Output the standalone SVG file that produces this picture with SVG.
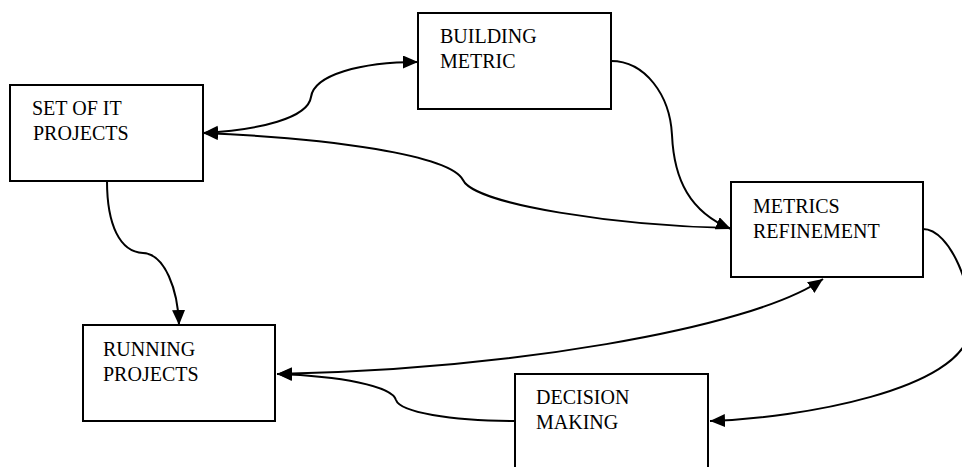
<svg xmlns="http://www.w3.org/2000/svg" width="962" height="467" viewBox="0 0 962 467">
<style>
.box{fill:#fff;stroke:#000;stroke-width:2}
.lbl{font-family:"Liberation Serif","Times New Roman",serif;font-size:20px;fill:#000}
.con{fill:none;stroke:#000;stroke-width:2}
</style>
<defs>
<marker id="ah" markerUnits="userSpaceOnUse" markerWidth="16" markerHeight="14" refX="15" refY="6.5" orient="auto-start-reverse" viewBox="0 0 16 14">
<path d="M0,0 L15,6.5 L0,13 z" fill="#000"/>
</marker>
</defs>
<rect width="962" height="467" fill="#fff"/>
<g id="connectors">
<path class="con" d="M203,133 C260,130 308,118 311,97 C314,75 360,62 418,62" marker-start="url(#ah)" marker-end="url(#ah)"/>
<path class="con" d="M203,133 C330,138 450,155 463,180 C475,205 620,226 731,228" marker-start="url(#ah)"/>
<path class="con" d="M611,61 C645,61 670,95 672,135 C674,180 690,212 731,229" marker-end="url(#ah)"/>
<path class="con" d="M277,374 C500,370 750,330 823,279" marker-start="url(#ah)" marker-end="url(#ah)"/>
<path class="con" d="M515,421 C450,421 400,412 396,400 C392,386 340,376 277,374" marker-end="url(#ah)"/>
<path class="con" d="M107,181 C107,225 120,252 143,253 C165,254 178,290 179,325" marker-end="url(#ah)"/>
<path class="con" d="M923,229 C950,229 975,290 970,330 C962,390 800,418 710,421" marker-end="url(#ah)"/>
</g>
<g id="set-of-it-projects">
<rect class="box" x="10" y="85" width="193" height="96"/>
<text class="lbl" x="32" y="115">SET OF IT</text>
<text class="lbl" x="33" y="140">PROJECTS</text>
</g>
<g id="building-metric">
<rect class="box" x="418" y="13" width="193" height="96"/>
<text class="lbl" x="440" y="43">BUILDING</text>
<text class="lbl" x="440" y="68">METRIC</text>
</g>
<g id="metrics-refinement">
<rect class="box" x="731" y="182" width="192" height="95"/>
<text class="lbl" x="753" y="213">METRICS</text>
<text class="lbl" x="753" y="238">REFINEMENT</text>
</g>
<g id="running-projects">
<rect class="box" x="83" y="325" width="192" height="96"/>
<text class="lbl" x="103" y="356">RUNNING</text>
<text class="lbl" x="103" y="381">PROJECTS</text>
</g>
<g id="decision-making">
<rect class="box" x="515" y="374" width="193" height="100"/>
<text class="lbl" x="536" y="404">DECISION</text>
<text class="lbl" x="536" y="429">MAKING</text>
</g>
</svg>
